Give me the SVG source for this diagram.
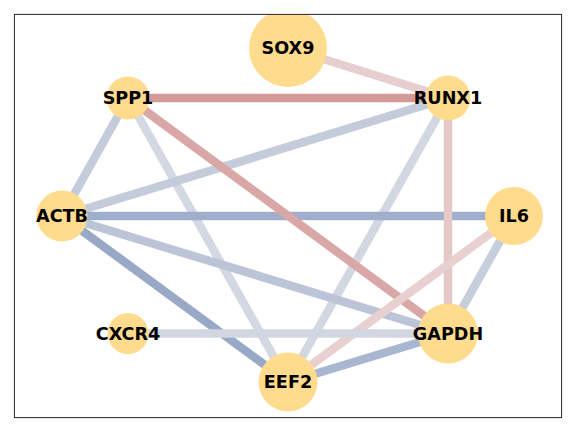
<svg xmlns="http://www.w3.org/2000/svg" width="576" height="432" viewBox="0 0 576 432">
<style>
.e{fill:none;stroke-width:8.5;stroke-linecap:butt}
.n circle{fill:#ffdb8e}
.n text{font-family:"DejaVu Sans","Liberation Sans",sans-serif;font-weight:bold;font-size:17.6px;text-anchor:middle;fill:#000}
</style>
<defs><clipPath id="ax"><rect x="14.4" y="14.4" width="547.2" height="403.2"/></clipPath></defs>
<rect x="0" y="0" width="576" height="432" fill="#fff"/>
<g id="connectors" clip-path="url(#ax)">
<line class="e" x1="128" y1="98" x2="62" y2="216" stroke="#c4cbda"/>
<line class="e" x1="128" y1="98" x2="288" y2="382" stroke="#d3d8e2"/>
<line class="e" x1="448" y1="98" x2="288" y2="382" stroke="#d2d7e1"/>
<line class="e" x1="62" y1="216" x2="288" y2="382" stroke="#98a9c8"/>
<line class="e" x1="62" y1="216" x2="448" y2="98" stroke="#c4ccdb"/>
<line class="e" x1="62" y1="216" x2="448" y2="333.5" stroke="#bcc5d7"/>
<line class="e" x1="62" y1="216" x2="514" y2="216" stroke="#9eaecb"/>
<line class="e" x1="128" y1="98" x2="448" y2="333.5" stroke="#d9a8a6"/>
<line class="e" x1="288" y1="48" x2="448" y2="98" stroke="#e8cfcf"/>
<line class="e" x1="128" y1="98" x2="448" y2="98" stroke="#d49a98"/>
<line class="e" x1="448" y1="98" x2="448" y2="333.5" stroke="#e6c8c8"/>
<line class="e" x1="514" y1="216" x2="288" y2="382" stroke="#e8d0d0"/>
<line class="e" x1="514" y1="216" x2="448" y2="333.5" stroke="#c6cedb"/>
<line class="e" x1="128" y1="333.5" x2="448" y2="333.5" stroke="#d2d6e1"/>
<line class="e" x1="448" y1="333.5" x2="288" y2="382" stroke="#a8b6d0"/>
</g>
<g clip-path="url(#ax)">
<g id="SOX9" class="n"><circle cx="288" cy="48" r="39"/><text x="288" y="54.4">SOX9</text></g>
<g id="SPP1" class="n"><circle cx="128" cy="98" r="21.5"/><text x="128" y="104.4">SPP1</text></g>
<g id="RUNX1" class="n"><circle cx="448" cy="98" r="22.5"/><text x="448" y="104.4">RUNX1</text></g>
<g id="ACTB" class="n"><circle cx="62" cy="216" r="25.5"/><text x="62" y="222.4">ACTB</text></g>
<g id="IL6" class="n"><circle cx="514" cy="216" r="29"/><text x="514" y="222.4">IL6</text></g>
<g id="CXCR4" class="n"><circle cx="128" cy="333.5" r="20.5"/><text x="128" y="339.9">CXCR4</text></g>
<g id="GAPDH" class="n"><circle cx="448" cy="333.5" r="30"/><text x="448" y="339.9">GAPDH</text></g>
<g id="EEF2" class="n"><circle cx="288" cy="382" r="29.5"/><text x="288" y="388.4">EEF2</text></g>
</g>
<rect x="14.4" y="14.4" width="547.2" height="403.2" fill="none" stroke="#262626" stroke-width="1"/>
</svg>
